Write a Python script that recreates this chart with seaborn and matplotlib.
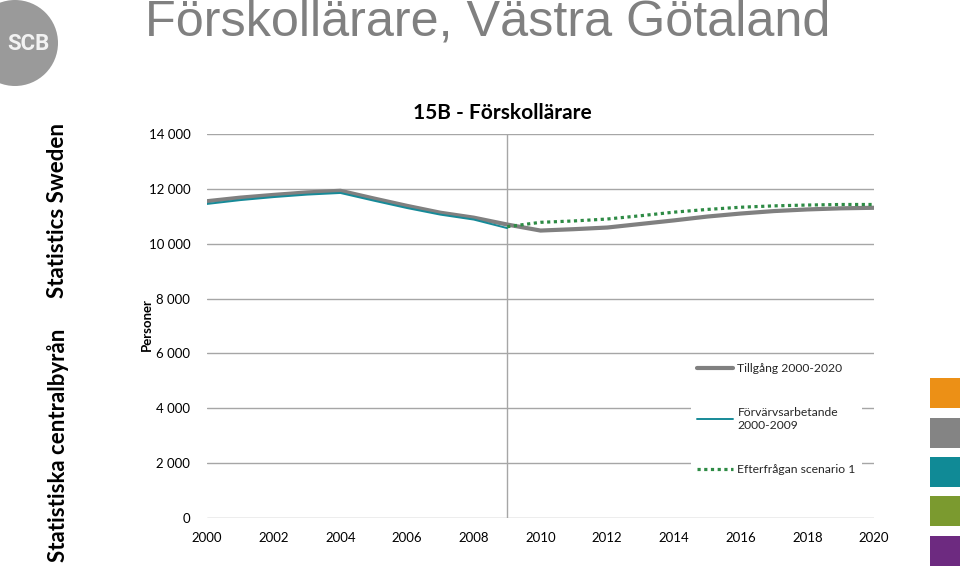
import numpy as np
import pandas as pd
import matplotlib
matplotlib.use("Agg")
import matplotlib.pyplot as plt
import seaborn as sns
from matplotlib.patches import Ellipse, Rectangle

# ---- data ----
years_all = list(range(2000, 2021))
tillgang = [11550, 11680, 11780, 11870, 11930, 11650, 11380, 11130, 10950, 10700,
            10480, 10530, 10590, 10720, 10850, 10990, 11100, 11190, 11250, 11290, 11310]
years_fa = list(range(2000, 2010))
forvarvs = [11450, 11590, 11700, 11790, 11850, 11570, 11300, 11060, 10880, 10570]
years_ef = list(range(2009, 2021))
efterfragan = [10620, 10780, 10830, 10900, 11020, 11150, 11250, 11330, 11380, 11410, 11430, 11430]

labels = ["Tillgång 2000-2020", "Förvärvsarbetande\n2000-2009", "Efterfrågan scenario 1"]
yticks = list(range(0, 14001, 2000))
ytick_labels = ["0", "2 000", "4 000", "6 000", "8 000", "10 000", "12 000", "14 000"]
xticks = list(range(2000, 2021, 2))

sns.set_theme(style="white")
plt.rcParams['font.family'] = ['Lato', 'DejaVu Sans']

fig = plt.figure(figsize=(9.6, 5.71), dpi=100)
ax = fig.add_axes([207/960, 1-518/571, (874-207)/960, (518-134)/571])

df1 = pd.DataFrame({"year": years_all, "v": tillgang})
df2 = pd.DataFrame({"year": years_fa, "v": forvarvs})
df3 = pd.DataFrame({"year": years_ef, "v": efterfragan})

for yv in yticks:
    ax.axhline(yv, color="#a6a6a6", lw=1.0, zorder=0)
ax.axvline(2009, color="#a6a6a6", lw=1.0, zorder=0)

sns.lineplot(data=df1, x="year", y="v", ax=ax, color="#808080", lw=3.0, label=labels[0], zorder=3)
sns.lineplot(data=df2, x="year", y="v", ax=ax, color="#178a98", lw=1.4, label=labels[1], zorder=4)
sns.lineplot(data=df3, x="year", y="v", ax=ax, color="#2e8b45", lw=2.3, label=labels[2], zorder=5,
             linestyle=(0, (1.0, 1.1)), dash_capstyle="butt")

ax.set_xlim(2000, 2020)
ax.set_ylim(0, 14000)
ax.set_yticks(yticks)
ax.set_yticklabels(ytick_labels)
ax.set_xticks(xticks)
ax.set_xticklabels([str(x) for x in xticks])
ax.tick_params(axis="both", length=0, labelsize=9.5, colors="#000000")
ax.tick_params(axis="y", pad=12)
ax.tick_params(axis="x", pad=10)
ax.set_xlabel("")
ax.set_ylabel("")
for s in ax.spines.values():
    s.set_visible(False)

leg = ax.legend(loc="upper left", bbox_to_anchor=(0.7256, 0.42), frameon=True, fontsize=8.7,
                handlelength=3.0, handletextpad=0.35, labelspacing=2.75, borderpad=0.5,
                borderaxespad=0)
leg.get_frame().set_edgecolor("none")
leg.get_frame().set_facecolor("white")
leg.get_frame().set_alpha(1)

# titles & labels
fig.text(502/960, 1-113/571, "15B - Förskollärare", ha="center", va="center",
         fontsize=15, fontweight="bold", color="#000000")
fig.text(147/960, 1-325/571, "Personer", ha="center", va="center", rotation=90,
         fontsize=9.5, fontweight="bold", color="#000000")
fig.text(145/960, 1-22/571, "Förskollärare, Västra Götaland", ha="left", va="center",
         fontsize=36.3, color="#808080", family="Liberation Sans")

# side texts
fig.text(58/960, 1-445/571, "Statistiska centralbyrån", ha="center", va="center", rotation=90,
         fontsize=16, fontweight="bold", color="#000000")
fig.text(58/960, 1-211/571, "Statistics Sweden", ha="center", va="center", rotation=90,
         fontsize=16, fontweight="bold", color="#000000")

# logo
fig.patches.append(Ellipse((15/960, 1-43/571), 86/960, 86/571, transform=fig.transFigure,
                           facecolor="#9a9a9a", edgecolor="none"))
fig.text(28/960, 1-44/571, "SCB", ha="center", va="center", fontsize=16, fontweight="bold",
         color="#f2f2f2", family='Roboto')

# colored squares
sq_colors = ["#ec9016", "#848484", "#108a96", "#7b9a2f", "#6d2a80"]
sq_tops = [378, 418, 457, 496, 536]
for c, t in zip(sq_colors, sq_tops):
    fig.patches.append(Rectangle((930/960, 1-(t+30)/571), 30/960, 30/571,
                                 transform=fig.transFigure, facecolor=c, edgecolor="none"))

fig.savefig("out.png", dpi=100)
